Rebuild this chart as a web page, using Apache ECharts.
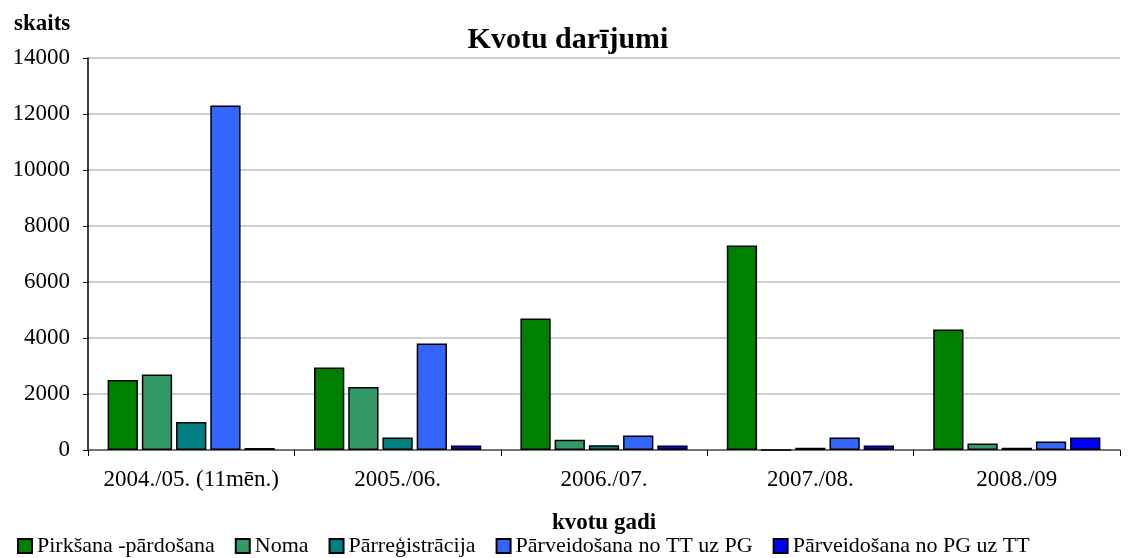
<!DOCTYPE html>
<html lang="lv">
<head>
    <meta charset="UTF-8">
    <title>Kvotu darījumi</title>
    <script src="https://cdn.jsdelivr.net/npm/echarts@6/dist/echarts.min.js"></script>
</head>
<body style="margin:0">
<div id="main" style="width:1136px;height:558px"></div>
<script>
    // dati
    var gadi = ['2004./05. (11mēn.)', '2005./06.', '2006./07.', '2007./08.', '2008./09'];
    var pirksana = [2500, 2950, 4700, 7300, 4300];
    var noma = [2700, 2250, 370, 0, 230];
    var parregistracija = [1000, 450, 170, 80, 80];
    var ttUzPg = [12300, 3800, 520, 450, 300];
    var pgUzTt = [70, 160, 160, 160, 450];

    var fonts = 'Liberation Serif, Times New Roman, serif';

    function bar(name, data, color) {
        return {
            name: name,
            type: 'bar',
            data: data,
            barGap: '13%',
            barCategoryGap: '19%',
            itemStyle: { color: color, borderColor: '#000', borderWidth: 1.5 }
        };
    }

    var myChart = echarts.init(document.getElementById('main'));
    myChart.setOption({
        animation: false,
        textStyle: { fontFamily: fonts },
        title: [{
            text: 'Kvotu darījumi',
            left: 'center',
            top: 20,
            textStyle: { fontFamily: fonts, fontSize: 30, fontWeight: 'bold', color: '#000' }
        }, {
            text: 'skaits',
            left: 9,
            top: 8,
            textStyle: { fontFamily: fonts, fontSize: 23, fontWeight: 'bold', color: '#000' }
        }],
        legend: {
            left: 12,
            top: 530,
            icon: 'rect',
            itemWidth: 14,
            itemHeight: 14,
            itemGap: 20,
            textStyle: { fontFamily: fonts, fontSize: 22, color: '#000' },
            data: ['Pirkšana -pārdošana', 'Noma', 'Pārreģistrācija', 'Pārveidošana no TT uz PG', 'Pārveidošana no PG uz TT']
        },
        grid: { left: 88, right: 16, top: 58, bottom: 108 },
        xAxis: {
            type: 'category',
            data: gadi,
            name: 'kvotu gadi',
            nameLocation: 'middle',
            nameGap: 62,
            nameTextStyle: { fontFamily: fonts, fontSize: 23, fontWeight: 'bold', color: '#000' },
            axisLine: { lineStyle: { color: '#555', width: 1.5 } },
            axisTick: { show: true, length: 6, lineStyle: { color: '#000' } },
            axisLabel: { interval: 0, fontFamily: fonts, fontSize: 23, color: '#000', margin: 18 }
        },
        yAxis: {
            type: 'value',
            min: 0,
            max: 14000,
            interval: 2000,
            axisLine: { show: true, lineStyle: { color: '#000', width: 1.5 } },
            axisTick: { show: true, length: 5, lineStyle: { color: '#000' } },
            axisLabel: {
                fontFamily: fonts, fontSize: 23, color: '#000', margin: 18,
                formatter: function (v) { return String(v); }
            },
            splitLine: { lineStyle: { color: '#c0c0c0', width: 1.5 } }
        },
        series: [
            bar('Pirkšana -pārdošana', pirksana, '#008000'),
            bar('Noma', noma, '#339966'),
            bar('Pārreģistrācija', parregistracija, '#008080'),
            bar('Pārveidošana no TT uz PG', ttUzPg, '#3366ff'),
            bar('Pārveidošana no PG uz TT', pgUzTt, '#0000ff')
        ]
    });
</script>
</body>
</html>
